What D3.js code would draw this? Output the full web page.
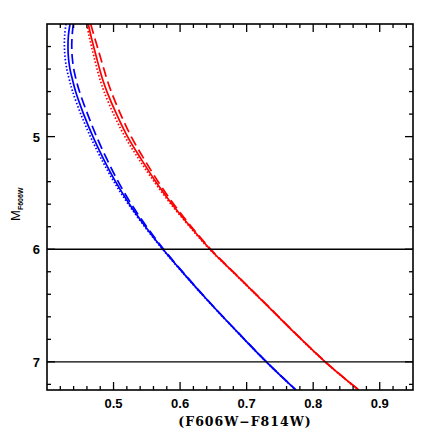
<!DOCTYPE html>
<html>
<head>
<meta charset="utf-8">
<script src="https://cdn.jsdelivr.net/npm/d3@7.9.0/dist/d3.min.js"></script>
<style>
  body { margin: 0; background: #fff; }
  svg { display: block; }
  .tick-label { font-family: "Liberation Sans", Arial, sans-serif; font-weight: bold; font-size: 13px; }
  .axis-title { font-family: "DejaVu Serif", "Liberation Serif", serif; font-weight: bold; font-size: 12.5px; letter-spacing: 1px; }
</style>
</head>
<body>
<svg id="chart" width="436" height="436"></svg>
<script>
// magnitude grid shared by all curves
const mags = [4.0, 4.1, 4.2, 4.3, 4.4, 4.5, 4.6, 4.8, 5.0, 5.2, 5.4, 5.6, 5.8, 6.0, 6.25, 6.5, 6.75, 7.0, 7.25];

// colour (F606W-F814W) for each curve
const blueSolid  = [0.4346, 0.4322, 0.4315, 0.4322, 0.4345, 0.4385, 0.4430, 0.4550, 0.4690, 0.4850, 0.5030, 0.5240, 0.5480, 0.5743, 0.6105, 0.6485, 0.6885, 0.7296, 0.7740];
const blueDashed = [0.4395, 0.4378, 0.4372, 0.4380, 0.4402, 0.4440, 0.4488, 0.4610, 0.4745, 0.4900, 0.5070, 0.5268, 0.5498, 0.5753, 0.6110, 0.6489, 0.6888, 0.7299, 0.7743];
const blueDotted = [0.4286, 0.4265, 0.4262, 0.4272, 0.4297, 0.4338, 0.4385, 0.4508, 0.4652, 0.4818, 0.5005, 0.5222, 0.5468, 0.5736, 0.6100, 0.6481, 0.6882, 0.7293, 0.7737];
const redSolid   = [0.4620, 0.4658, 0.4700, 0.4745, 0.4790, 0.4840, 0.4900, 0.5045, 0.5210, 0.5415, 0.5635, 0.5880, 0.6155, 0.6450, 0.6880, 0.7310, 0.7735, 0.8180, 0.8684];
const redDashed  = [0.4657, 0.4705, 0.4755, 0.4805, 0.4855, 0.4905, 0.4965, 0.5105, 0.5265, 0.5460, 0.5670, 0.5905, 0.6170, 0.6460, 0.6886, 0.7314, 0.7739, 0.8184, 0.8688];
const redDotted  = [0.4597, 0.4630, 0.4668, 0.4710, 0.4752, 0.4800, 0.4857, 0.5000, 0.5170, 0.5380, 0.5610, 0.5862, 0.6143, 0.6442, 0.6874, 0.7306, 0.7731, 0.8176, 0.8680];

const refMags = [6, 7];

const xMajor = [0.5, 0.6, 0.7, 0.8, 0.9];
const yMajor = [5, 6, 7];

const margin = { left: 47, right: 23, top: 24, bottom: 46 };
const width = 436, height = 436;

const x = d3.scaleLinear().domain([0.4, 0.95]).range([margin.left, width - margin.right]);
const y = d3.scaleLinear().domain([4, 7.25]).range([margin.top, height - margin.bottom]);

const svg = d3.select('#chart');

const curves = [
  { values: blueSolid,  color: '#0000ff', dash: null },
  { values: blueDashed, color: '#0000ff', dash: '10,5' },
  { values: blueDotted, color: '#0000ff', dash: '1.5,2' },
  { values: redSolid,   color: '#ff0000', dash: null },
  { values: redDashed,  color: '#ff0000', dash: '10,5' },
  { values: redDotted,  color: '#ff0000', dash: '1.5,2' },
];

const line = d3.line()
  .x((d) => x(d[0]))
  .y((d) => y(d[1]))
  .curve(d3.curveCatmullRom);

svg.append('defs').append('clipPath').attr('id', 'clip')
  .append('rect')
  .attr('x', x(0.4)).attr('y', y(4))
  .attr('width', x(0.95) - x(0.4)).attr('height', y(7.25) - y(4));

const plot = svg.append('g').attr('clip-path', 'url(#clip)');

curves.forEach((c) => {
  plot.append('path')
    .attr('d', line(c.values.map((v, i) => [v, mags[i]])))
    .attr('fill', 'none')
    .attr('stroke', c.color)
    .attr('stroke-width', 1.7)
    .attr('stroke-dasharray', c.dash);
});

refMags.forEach((m) => {
  svg.append('line')
    .attr('x1', x(0.4)).attr('x2', x(0.95))
    .attr('y1', y(m)).attr('y2', y(m))
    .attr('stroke', '#000').attr('stroke-width', 1.3);
});

// inward ticks on all four sides
const tickLen = (major) => (major ? 8 : 4);
const xTicks = d3.range(0.42, 0.95, 0.02).map((v) => +v.toFixed(2));
const yTicks = d3.range(4.2, 7.25, 0.2).map((v) => +v.toFixed(1));
const axes = svg.append('g').attr('stroke', '#000').attr('stroke-width', 1.3);

xTicks.forEach((v) => {
  const len = tickLen(xMajor.includes(v));
  axes.append('line').attr('x1', x(v)).attr('x2', x(v)).attr('y1', y(7.25)).attr('y2', y(7.25) - len);
  axes.append('line').attr('x1', x(v)).attr('x2', x(v)).attr('y1', y(4)).attr('y2', y(4) + len);
});
yTicks.forEach((v) => {
  const len = tickLen(yMajor.includes(v));
  axes.append('line').attr('y1', y(v)).attr('y2', y(v)).attr('x1', x(0.4)).attr('x2', x(0.4) + len);
  axes.append('line').attr('y1', y(v)).attr('y2', y(v)).attr('x1', x(0.95)).attr('x2', x(0.95) - len);
});

svg.append('rect')
  .attr('x', x(0.4)).attr('y', y(4))
  .attr('width', x(0.95) - x(0.4)).attr('height', y(7.25) - y(4))
  .attr('fill', 'none').attr('stroke', '#000').attr('stroke-width', 1.6);

xMajor.forEach((v) => {
  svg.append('text').attr('class', 'tick-label')
    .attr('x', x(v)).attr('y', y(7.25) + 18)
    .attr('text-anchor', 'middle')
    .text(v.toFixed(1));
});
yMajor.forEach((v) => {
  svg.append('text').attr('class', 'tick-label')
    .attr('x', x(0.4) - 7).attr('y', y(v) + 5)
    .attr('text-anchor', 'end')
    .text(v);
});

svg.append('text').attr('class', 'axis-title')
  .attr('x', 245).attr('y', 426)
  .attr('text-anchor', 'middle')
  .text('(F606W\u2212F814W)');

const yTitle = svg.append('text')
  .attr('transform', `translate(20, ${y(5.6)}) rotate(-90)`)
  .attr('text-anchor', 'middle')
  .attr('font-family', '"Liberation Sans", Arial, sans-serif');
yTitle.append('tspan').attr('font-size', 13).text('M');
yTitle.append('tspan').attr('font-size', 7).attr('font-weight', 'bold').attr('dy', 3).text('F606W');
</script>
</body>
</html>
